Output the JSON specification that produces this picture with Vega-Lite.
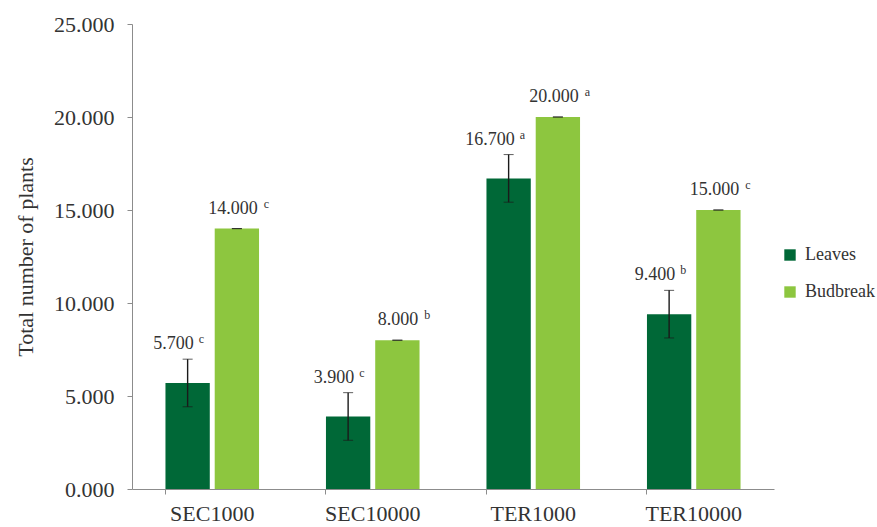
{
  "$schema": "https://vega.github.io/schema/vega-lite/v6.json",
  "width": 642,
  "height": 465,
  "autosize": "none",
  "padding": {"left": 132, "top": 24, "right": 103, "bottom": 38},
  "background": "white",
  "config": {
    "font": "Liberation Serif",
    "view": {"stroke": null},
    "axis": {"labelColor": "#333333", "titleColor": "#333333", "domainColor": "#8c8c8c", "tickColor": "#8c8c8c", "labelFont": "Liberation Serif", "titleFont": "Liberation Serif"}
  },
  "data": {
    "values": [
      {"treatment": "SEC1000", "series": "Leaves", "value": 5.7, "err": 1.28, "letter": "c"},
      {"treatment": "SEC1000", "series": "Budbreak", "value": 14.0, "err": 0, "letter": "c"},
      {"treatment": "SEC10000", "series": "Leaves", "value": 3.9, "err": 1.28, "letter": "c"},
      {"treatment": "SEC10000", "series": "Budbreak", "value": 8.0, "err": 0, "letter": "b"},
      {"treatment": "TER1000", "series": "Leaves", "value": 16.7, "err": 1.28, "letter": "a"},
      {"treatment": "TER1000", "series": "Budbreak", "value": 20.0, "err": 0, "letter": "a"},
      {"treatment": "TER10000", "series": "Leaves", "value": 9.4, "err": 1.28, "letter": "b"},
      {"treatment": "TER10000", "series": "Budbreak", "value": 15.0, "err": 0, "letter": "c"}
    ]
  },
  "transform": [{"calculate": "datum.value + datum.err", "as": "hi"}],
  "encoding": {
    "xOffset": {"field": "series", "type": "nominal", "sort": ["Leaves", "Budbreak"], "scale": {"paddingInner": 0.1, "paddingOuter": 0}}
  },
  "layer": [
    {
      "mark": {"type": "bar"},
      "encoding": {
        "x": {"field": "treatment", "type": "nominal", "sort": ["SEC1000", "SEC10000", "TER1000", "TER10000"], "scale": {"paddingInner": 0.417, "paddingOuter": 0.2085},
          "axis": {"title": null, "labelAngle": 0, "labelFontSize": 22, "labelPadding": 14, "ticks": false, "domain": true, "orient": "bottom"}},
        "y": {"field": "value", "type": "quantitative", "scale": {"domain": [0, 25], "nice": false},
          "axis": {"title": "Total number of plants", "titleFontSize": 22, "titleFontWeight": "normal", "titlePadding": 16, "labelFontSize": 22, "labelPadding": 13, "tickSize": 5, "grid": false, "values": [0, 5, 10, 15, 20, 25], "format": ".3f"}},
        "color": {"field": "series", "type": "nominal", "sort": ["Leaves", "Budbreak"], "scale": {"domain": ["Leaves", "Budbreak"], "range": ["#006837", "#8dc63f"]},
          "legend": {"title": null, "orient": "none", "legendX": 649, "legendY": 222, "symbolType": "square", "symbolSize": 130, "symbolStrokeWidth": 0, "labelFont": "Liberation Serif", "labelFontSize": 18, "labelColor": "#333333", "rowPadding": 19, "labelOffset": 6}}
      }
    },
    {
      "mark": {"type": "errorbar", "color": "#1a1a1a", "ticks": {"size": 10, "color": "#1a1a1a"}, "rule": {"strokeWidth": 1.4}},
      "encoding": {
        "x": {"field": "treatment", "type": "nominal", "sort": ["SEC1000", "SEC10000", "TER1000", "TER10000"],
          "axis": {"title": null, "labels": false, "domain": false, "ticks": true, "tickSize": 5, "bandPosition": 0, "orient": "bottom"}},
        "y": {"field": "value", "type": "quantitative", "title": "Total number of plants"},
        "yError": {"field": "err"}
      }
    },
    {
      "transform": [{"filter": "datum.series == 'Leaves'"}],
      "mark": {"type": "text", "align": "right", "baseline": "middle", "dx": 6, "dy": -15, "fontSize": 18, "font": "Liberation Serif", "color": "#333333"},
      "encoding": {
        "x": {"field": "treatment", "type": "nominal", "sort": ["SEC1000", "SEC10000", "TER1000", "TER10000"], "axis": null},
        "y": {"field": "hi", "type": "quantitative", "title": "Total number of plants"},
        "text": {"field": "value", "type": "quantitative", "format": ".3f"}
      }
    },
    {
      "transform": [{"filter": "datum.series == 'Leaves'"}],
      "mark": {"type": "text", "align": "left", "baseline": "middle", "dx": 11, "dy": -20, "fontSize": 12, "font": "Liberation Serif", "color": "#333333"},
      "encoding": {
        "x": {"field": "treatment", "type": "nominal", "sort": ["SEC1000", "SEC10000", "TER1000", "TER10000"], "axis": null},
        "y": {"field": "hi", "type": "quantitative", "title": "Total number of plants"},
        "text": {"field": "letter"}
      }
    },
    {
      "transform": [{"filter": "datum.series == 'Budbreak'"}],
      "mark": {"type": "text", "align": "right", "baseline": "middle", "dx": 21, "dy": -20, "fontSize": 18, "font": "Liberation Serif", "color": "#333333"},
      "encoding": {
        "x": {"field": "treatment", "type": "nominal", "sort": ["SEC1000", "SEC10000", "TER1000", "TER10000"], "axis": null},
        "y": {"field": "hi", "type": "quantitative", "title": "Total number of plants"},
        "text": {"field": "value", "type": "quantitative", "format": ".3f"}
      }
    },
    {
      "transform": [{"filter": "datum.series == 'Budbreak'"}],
      "mark": {"type": "text", "align": "left", "baseline": "middle", "dx": 27, "dy": -25, "fontSize": 12, "font": "Liberation Serif", "color": "#333333"},
      "encoding": {
        "x": {"field": "treatment", "type": "nominal", "sort": ["SEC1000", "SEC10000", "TER1000", "TER10000"], "axis": null},
        "y": {"field": "hi", "type": "quantitative", "title": "Total number of plants"},
        "text": {"field": "letter"}
      }
    }
  ],
  "resolve": {"axis": {"x": "independent"}}
}
